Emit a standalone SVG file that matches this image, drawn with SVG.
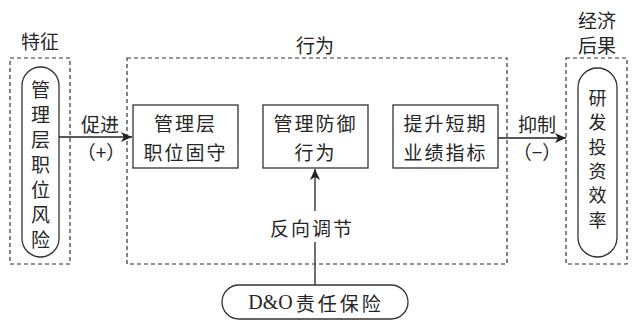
<svg xmlns="http://www.w3.org/2000/svg" width="632" height="320" viewBox="0 0 632 320">
<style>
.t{font-family:"Noto Sans CJK SC","Noto Sans",sans-serif;font-size:19px;fill:#262626;text-anchor:middle;dominant-baseline:central}
.s{font-size:18px}
.l{font-family:"Liberation Serif","Noto Sans CJK SC",serif;font-size:20px;fill:#262626}
.dash{fill:none;stroke:#333;stroke-width:1.2;stroke-dasharray:4 3}
.box{fill:#fff;stroke:#333;stroke-width:1.3}
.ln{fill:none;stroke:#222;stroke-width:1.3}
</style>
<defs>
<marker id="ah" viewBox="0 0 12 10" refX="11" refY="5" markerWidth="12" markerHeight="10" markerUnits="userSpaceOnUse" orient="auto">
<path d="M0,0 L11,5 L0,10 L3,5 Z" fill="#222"/>
</marker>
</defs>
<rect width="632" height="320" fill="#fff"/>

<g id="group-feature">
<rect class="dash" x="10" y="58" width="60" height="206"/>
<text class="t" x="40" y="40">特征</text>
</g>
<g id="group-behavior">
<rect class="dash" x="127" y="58" width="380" height="206"/>
<text class="t" x="315" y="44">行为</text>
</g>
<g id="group-econ">
<rect class="dash" x="566" y="58" width="61" height="206"/>
<text class="t" x="597" y="19">经济</text>
<text class="t" x="597" y="44">后果</text>
</g>

<g id="connectors">
<line class="ln" x1="59" y1="137" x2="132" y2="137" marker-end="url(#ah)"/>
<line class="ln" x1="498" y1="138" x2="566" y2="138" marker-end="url(#ah)"/>
<line class="ln" x1="315" y1="285" x2="315" y2="242"/>
<line class="ln" x1="315" y1="211" x2="315" y2="169" marker-end="url(#ah)"/>
<text class="t" x="100" y="123">促进</text>
<text class="t" x="101" y="151">（+）</text>
<text class="t" x="537" y="123">抑制</text>
<text class="t" x="537" y="151">（−）</text>
<text class="t" x="312" y="227" letter-spacing="2">反向调节</text>
</g>

<g id="node-risk">
<rect class="box" x="22" y="67" width="37" height="190" rx="18.5"/>
<text class="t" x="40.5" y="88">管</text>
<text class="t" x="40.5" y="113">理</text>
<text class="t" x="40.5" y="138">层</text>
<text class="t" x="40.5" y="163">职</text>
<text class="t" x="40.5" y="188">位</text>
<text class="t" x="40.5" y="213">风</text>
<text class="t" x="40.5" y="238">险</text>
</g>

<g id="node-b1">
<rect class="box" x="133" y="105" width="105" height="63"/>
<text class="t" x="185.5" y="122" letter-spacing="2">管理层</text>
<text class="t" x="185.5" y="151" letter-spacing="2">职位固守</text>
</g>
<g id="node-b2">
<rect class="box" x="263" y="105" width="105" height="63"/>
<text class="t" x="315.5" y="122" letter-spacing="2">管理防御</text>
<text class="t" x="315.5" y="151" letter-spacing="2">行为</text>
</g>
<g id="node-b3">
<rect class="box" x="393" y="105" width="105" height="63"/>
<text class="t" x="445.5" y="122" letter-spacing="2">提升短期</text>
<text class="t" x="445.5" y="151" letter-spacing="2">业绩指标</text>
</g>

<g id="node-rd">
<rect class="box" x="578" y="68" width="39" height="189" rx="19.5"/>
<text class="t s" x="597.5" y="97">研</text>
<text class="t s" x="597.5" y="121.3">发</text>
<text class="t s" x="597.5" y="145.6">投</text>
<text class="t s" x="597.5" y="169.9">资</text>
<text class="t s" x="597.5" y="194.2">效</text>
<text class="t s" x="597.5" y="218.5">率</text>
</g>

<g id="node-do">
<rect class="box" x="222" y="285" width="186" height="34" rx="17"/>
<text class="l" x="316" y="302" text-anchor="middle" dominant-baseline="central">D&amp;O<tspan font-family="Noto Sans CJK SC, sans-serif" font-size="19" letter-spacing="3" dx="3">责任保险</tspan></text>
</g>
</svg>
